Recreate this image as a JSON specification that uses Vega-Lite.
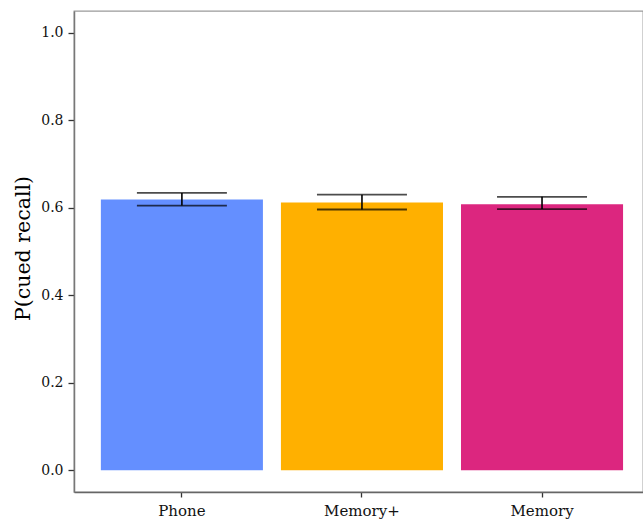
{
  "$schema": "https://vega.github.io/schema/vega-lite/v6.json",
  "width": 569,
  "height": 481,
  "autosize": "none",
  "padding": {"left": 74, "top": 11, "right": 0, "bottom": 28},
  "background": "white",
  "config": {
    "view": {"stroke": "#9a9a9a", "strokeWidth": 1.3},
    "font": "DejaVu Serif"
  },
  "data": {
    "values": [
      {"condition": "Phone", "mean": 0.619, "lower": 0.605, "upper": 0.634},
      {"condition": "Memory+", "mean": 0.612, "lower": 0.596, "upper": 0.630},
      {"condition": "Memory", "mean": 0.608, "lower": 0.597, "upper": 0.625}
    ]
  },
  "encoding": {
    "x": {
      "field": "condition",
      "type": "nominal",
      "sort": ["Phone", "Memory+", "Memory"],
      "scale": {"paddingInner": 0.1, "paddingOuter": 0.13, "align": 0.574},
      "axis": {
        "title": null,
        "labelAngle": 0,
        "labelFont": "DejaVu Serif",
        "labelFontSize": 15,
        "labelColor": "#111111",
        "tickSize": 5,
        "tickColor": "#333333",
        "tickWidth": 1.3,
        "labelPadding": 6,
        "domainColor": "#666666",
        "domainWidth": 1.5
      }
    }
  },
  "layer": [
    {
      "mark": {"type": "bar"},
      "encoding": {
        "y": {
          "field": "mean",
          "type": "quantitative",
          "scale": {"domain": [-0.05, 1.05], "nice": false, "zero": false},
          "axis": {
            "title": "P(cued recall)",
            "titleFont": "DejaVu Serif",
            "titleFontSize": 20.5,
            "titleFontWeight": "normal",
            "titleColor": "#000000",
            "titleAngle": -90,
            "titleX": -50.5,
            "titleY": 237,
            "titleBaseline": "middle",
            "titleAlign": "center",
            "values": [0, 0.2, 0.4, 0.6, 0.8, 1.0],
            "format": ".1f",
            "labelFont": "DejaVu Serif",
            "labelFontSize": 14,
            "labelColor": "#111111",
            "tickSize": 6,
            "tickColor": "#333333",
            "tickWidth": 1.3,
            "labelPadding": 5,
            "grid": false,
            "domainColor": "#777777",
            "domainWidth": 1.5
          }
        },
        "color": {
          "field": "condition",
          "type": "nominal",
          "scale": {
            "domain": ["Phone", "Memory+", "Memory"],
            "range": ["#648FFF", "#FFB000", "#DC267F"]
          },
          "legend": null
        }
      }
    },
    {
      "mark": {"type": "rule", "color": "#000000", "strokeWidth": 1.6},
      "encoding": {
        "y": {"field": "lower", "type": "quantitative"},
        "y2": {"field": "upper"}
      }
    },
    {
      "mark": {"type": "tick", "color": "#000000", "thickness": 1.8, "size": 90, "orient": "horizontal"},
      "encoding": {
        "y": {"field": "upper", "type": "quantitative"}
      }
    },
    {
      "mark": {"type": "tick", "color": "#000000", "thickness": 1.8, "size": 90, "orient": "horizontal"},
      "encoding": {
        "y": {"field": "lower", "type": "quantitative"}
      }
    }
  ]
}
